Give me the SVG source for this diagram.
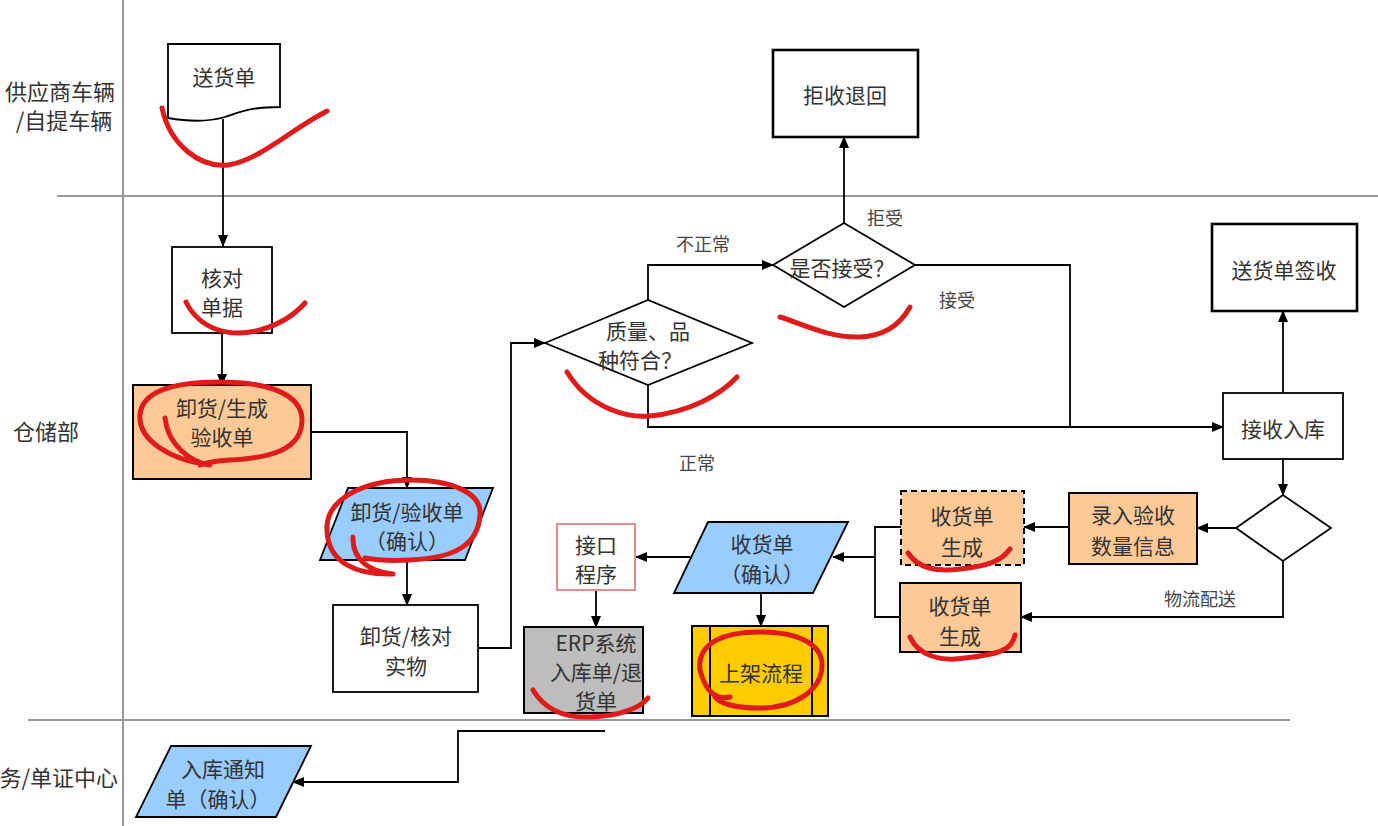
<svg xmlns="http://www.w3.org/2000/svg" width="1378" height="826" viewBox="0 0 1378 826">
<defs>
<marker id="ah" markerWidth="12" markerHeight="10" refX="11" refY="5" orient="auto" markerUnits="userSpaceOnUse">
<path d="M0,0 L12,5 L0,10 Z" fill="#000"/>
</marker>
<style>
.t{font-family:"Noto Sans CJK SC","Noto Sans",sans-serif;font-size:21px;fill:#333;text-anchor:middle;dominant-baseline:central}
.l{font-family:"Noto Sans CJK SC","Noto Sans",sans-serif;font-size:18px;fill:#444;text-anchor:middle;dominant-baseline:central}
.lane{font-family:"Noto Sans CJK SC","Noto Sans",sans-serif;font-size:22px;fill:#333;dominant-baseline:central}
.box{fill:#fff;stroke:#000;stroke-width:1.8}
.thick{fill:#fff;stroke:#000;stroke-width:2.6}
.org{fill:#FDC997;stroke:#000;stroke-width:2}
.blue{fill:#99CCFF;stroke:#000;stroke-width:1.8}
.c{fill:none;stroke:#000;stroke-width:1.8}
.ca{fill:none;stroke:#000;stroke-width:1.8;marker-end:url(#ah)}
.sep{stroke:#999;stroke-width:2;fill:none}
.red{fill:none;stroke:#E01B1B;stroke-width:5;stroke-linecap:round;stroke-linejoin:round}
</style>
</defs>
<rect width="1378" height="826" fill="#fff"/>
<g id="lanes">
<line class="sep" x1="123" y1="0" x2="123" y2="826"/>
<line class="sep" x1="57" y1="196" x2="1378" y2="196"/>
<line class="sep" x1="28" y1="720" x2="1290" y2="720"/>
<text class="lane" x="60" y="90" text-anchor="middle">供应商车辆</text>
<text class="lane" x="64" y="119" text-anchor="middle">/自提车辆</text>
<text class="lane" x="13" y="430">仓储部</text>
<text class="lane" x="118" y="776" text-anchor="end">务/单证中心</text>
</g>
<g id="connectors">
<path class="ca" d="M223,119 V246"/>
<path class="ca" d="M222,333 V385"/>
<path class="ca" d="M311,432 H407 V488"/>
<path class="ca" d="M407,560 V605"/>
<path class="ca" d="M478,648 H511 V343 H545"/>
<path class="ca" d="M648,300 V265 H773"/>
<path class="ca" d="M844,223 V137"/>
<path class="c" d="M915,265 H1070 V427"/>
<path class="ca" d="M648,385 V427 H1223"/>
<path class="ca" d="M1283,393 V311"/>
<path class="ca" d="M1283,459 V495"/>
<path class="ca" d="M1236,528 H1197"/>
<path class="ca" d="M1069,527 H1024"/>
<path class="ca" d="M1283,561 V617 H1021"/>
<path class="c" d="M901,527 H875 V617 H900"/>
<path class="ca" d="M875,557 H833"/>
<path class="ca" d="M690,557 H636"/>
<path class="ca" d="M596,590 V627"/>
<path class="ca" d="M761,593 V626"/>
<path class="ca" d="M605,731 H458 V782 H293"/>
<text class="l" x="703" y="243">不正常</text>
<text class="l" x="885" y="217">拒受</text>
<text class="l" x="957" y="299">接受</text>
<text class="l" x="697" y="462">正常</text>
<text class="l" x="1200" y="598">物流配送</text>
</g>
<g id="n_songhuodan">
<path class="box" d="M168,44 H280 V107 C250,107 240,112 225,117 C205,123 185,121 168,118 Z"/>
<text class="t" x="224" y="76">送货单</text>
</g>
<g id="n_hedui">
<rect class="box" x="172" y="247" width="100" height="86"/>
<text class="t" x="222" y="277">核对</text>
<text class="t" x="222" y="306">单据</text>
</g>
<g id="n_xiehuo_shengcheng">
<rect class="org" x="133" y="385" width="178" height="94"/>
<text class="t" x="222" y="407">卸货/生成</text>
<text class="t" x="222" y="436">验收单</text>
</g>
<g id="n_yanshoudan">
<path class="blue" d="M348,488 H493 L465,560 H320 Z"/>
<text class="t" x="407" y="511">卸货/验收单</text>
<text class="t" x="407" y="540">（确认）</text>
</g>
<g id="n_heduishiwu">
<rect class="box" x="333" y="605" width="145" height="87"/>
<text class="t" x="406" y="635">卸货/核对</text>
<text class="t" x="406" y="665">实物</text>
</g>
<g id="n_zhiliang">
<path class="box" d="M545,343 L648,300 L752,343 L648,385 Z"/>
<text class="t" x="648" y="330">质量、品</text>
<text class="t" x="640" y="359">种符合？</text>
</g>
<g id="n_shifou">
<path class="box" d="M773,265 L844,223 L915,265 L844,307 Z"/>
<text class="t" x="842" y="267">是否接受？</text>
</g>
<g id="n_jushou">
<rect class="thick" x="773" y="50" width="145" height="87"/>
<text class="t" x="845" y="94">拒收退回</text>
</g>
<g id="n_qianshou">
<rect class="thick" x="1212" y="224" width="145" height="87"/>
<text class="t" x="1284" y="269">送货单签收</text>
</g>
<g id="n_jieshou">
<rect class="box" x="1223" y="393" width="120" height="66"/>
<text class="t" x="1283" y="428">接收入库</text>
</g>
<g id="n_decision">
<path class="box" d="M1236,528 L1283,495 L1331,528 L1283,561 Z"/>
</g>
<g id="n_luru">
<rect class="org" x="1069" y="493" width="128" height="71"/>
<text class="t" x="1133" y="514">录入验收</text>
<text class="t" x="1133" y="545">数量信息</text>
</g>
<g id="n_shouhuo1">
<rect class="org" x="901" y="491" width="123" height="74" stroke-dasharray="6,4"/>
<text class="t" x="962" y="515">收货单</text>
<text class="t" x="962" y="546">生成</text>
</g>
<g id="n_shouhuo2">
<rect class="org" x="900" y="583" width="121" height="69"/>
<text class="t" x="960" y="605">收货单</text>
<text class="t" x="960" y="635">生成</text>
</g>
<g id="n_shouhuoqueren">
<path class="blue" d="M708,522 H848 L813,593 H674 Z"/>
<text class="t" x="762" y="543">收货单</text>
<text class="t" x="762" y="573">（确认）</text>
</g>
<g id="n_jiekou">
<rect x="557" y="524" width="78" height="66" fill="#fff" stroke="#E88B8B" stroke-width="2"/>
<text class="t" x="596" y="544">接口</text>
<text class="t" x="596" y="573">程序</text>
</g>
<g id="n_erp">
<rect x="524" y="627" width="119" height="86" fill="#BDBDBD" stroke="#000" stroke-width="2"/>
<text class="t" x="596" y="642">ERP系统</text>
<text class="t" x="596" y="671">入库单/退</text>
<text class="t" x="596" y="700">货单</text>
</g>
<g id="n_shangjia">
<rect x="692" y="626" width="136" height="90" fill="#FFCC00" stroke="#000" stroke-width="2"/>
<line x1="710" y1="626" x2="710" y2="716" stroke="#000" stroke-width="2"/>
<line x1="812" y1="626" x2="812" y2="716" stroke="#000" stroke-width="2"/>
<text class="t" x="761" y="672">上架流程</text>
</g>
<g id="n_tongzhi">
<path class="blue" d="M171,746 H311 L276,817 H136 Z"/>
<text class="t" x="223" y="768">入库通知</text>
<text class="t" x="218" y="798">单（确认）</text>
</g>
<g id="redmarks">
<path class="red" d="M162,108 C170,145 200,168 228,165 C260,160 290,130 327,111"/>
<path class="red" d="M186,302 C200,330 230,338 260,330 C285,323 297,312 305,303"/>
<path class="red" d="M165,418 C168,445 190,462 210,465 C170,460 138,440 140,415 C142,390 175,382 220,382 C270,382 302,395 302,420 C302,450 270,458 230,460 C215,461 205,463 200,465"/>
<path class="red" d="M353,537 C352,560 370,572 393,574 C360,575 325,565 327,525 C330,495 370,480 410,480 C450,480 482,492 480,515 C478,545 455,558 410,560 C390,561 375,560 365,558"/>
<path class="red" d="M567,372 C590,410 630,418 650,416 C690,412 720,395 737,377"/>
<path class="red" d="M780,317 C805,325 830,338 860,337 C885,336 900,325 910,307"/>
<path class="red" d="M908,553 C918,568 935,572 960,569 C990,566 1002,560 1010,549"/>
<path class="red" d="M910,637 C918,655 940,662 965,658 C1000,654 1012,650 1015,635"/>
<path class="red" d="M533,690 C545,710 565,718 590,717 C620,716 640,708 648,698"/>
<path class="red" d="M730,697 C715,700 705,690 700,670 C697,645 720,632 760,632 C800,632 822,645 822,665 C822,690 795,708 760,708 C740,708 722,705 715,697"/>
</g>
</svg>
